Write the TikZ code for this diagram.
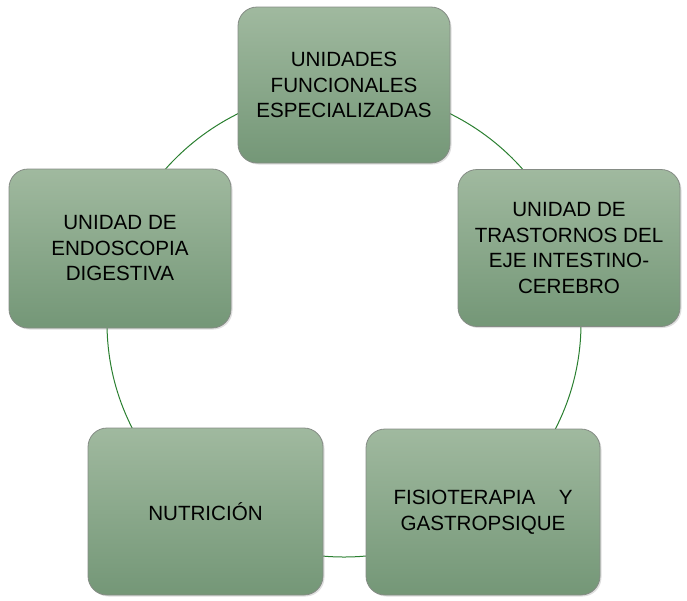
\documentclass[tikz,border=0pt]{standalone}
\usepackage{fontspec}
\setmainfont{Liberation Sans}
\usepackage{tikz}
\usetikzlibrary{shadows}
\definecolor{ringline}{HTML}{2A7F30}
\definecolor{boxtop}{HTML}{A0B99F}
\definecolor{boxbottom}{HTML}{749777}
\definecolor{boxedge}{HTML}{858C85}
\tikzset{%
    unitbox/.style={rectangle, rounded corners=19pt, draw=boxedge, line width=0.8pt,
        top color=boxtop, bottom color=boxbottom, inner sep=0pt, align=center,
        font=\fontsize{20.6}{25.5}\selectfont,
        drop shadow={opacity=0.25, shadow xshift=1.5pt, shadow yshift=-1.5pt}}
}

\begin{document}
\begin{tikzpicture}[x=1pt,y=-1pt]
      \useasboundingbox (0,0) rectangle (687,600);

      % ring behind the units
      \coordinate (ring) at (344,323);
      \draw[color=ringline,line width=1pt] (ring) ellipse[x radius=237, y radius=234];

      \node[unitbox, minimum width=212, minimum height=156] (spez) at (344,85)
          {UNIDADES\\FUNCIONALES\\ESPECIALIZADAS};
      \node[unitbox, minimum width=222, minimum height=157] (eje) at (569,248)
          {UNIDAD DE\\TRASTORNOS DEL\\EJE INTESTINO-\\CEREBRO};
      \node[unitbox, minimum width=234, minimum height=166] (fisio) at (483,512)
          {\parbox{179pt}{\centering FISIOTERAPIA\hfill Y\\GASTROPSIQUE}};
      \node[unitbox, minimum width=235, minimum height=167] (nutri) at (205.5,511.5)
          {NUTRICIÓN};
      \node[unitbox, minimum width=222, minimum height=159] (endo) at (120,248.5)
          {UNIDAD DE\\ENDOSCOPIA\\DIGESTIVA};
\end{tikzpicture}
\end{document}
